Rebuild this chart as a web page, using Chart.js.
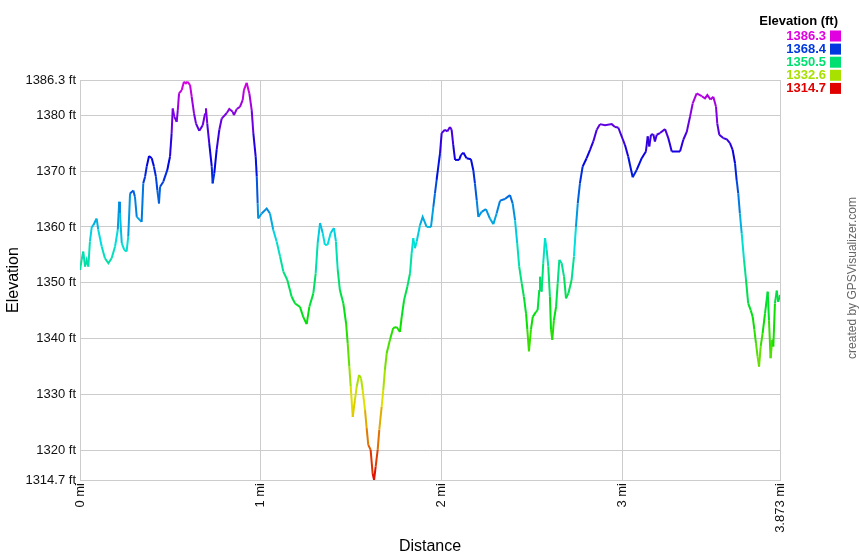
<!DOCTYPE html>
<html>
<head>
<meta charset="utf-8">
<script src="https://cdn.jsdelivr.net/npm/chart.js@4"></script>
<style>
  body { margin: 0; background: #fff; }
  #wrap { width: 860px; height: 560px; }
</style>
</head>
<body>
<div id="wrap"><canvas id="elevChart" width="860" height="560"></canvas></div>
<script>
// distance along the track (mi)
const distances = [
  0, 0.009, 0.018, 0.028, 0.037, 0.046, 0.055, 0.065, 0.074, 0.092, 0.101, 0.120, 0.138, 0.157, 0.175, 0.194, 0.209, 0.217, 0.221, 0.231,
  0.245, 0.258, 0.267, 0.277, 0.295, 0.304, 0.314, 0.341, 0.350, 0.360, 0.369, 0.382, 0.397, 0.409, 0.420, 0.428, 0.437, 0.443, 0.461, 0.483,
  0.498, 0.507, 0.513, 0.522, 0.535, 0.541, 0.548, 0.563, 0.575, 0.586, 0.594, 0.609, 0.618, 0.631, 0.642, 0.660, 0.679, 0.692, 0.697, 0.704,
  0.715, 0.729, 0.734, 0.743, 0.756, 0.771, 0.784, 0.812, 0.826, 0.845, 0.852, 0.867, 0.885, 0.900, 0.907, 0.922, 0.937, 0.950, 0.959, 0.972,
  0.978, 0.983, 0.986, 1.005, 1.033, 1.051, 1.069, 1.088, 1.107, 1.125, 1.147, 1.171, 1.190, 1.217, 1.235, 1.254, 1.269, 1.291, 1.304, 1.315,
  1.328, 1.343, 1.355, 1.370, 1.387, 1.405, 1.416, 1.426, 1.438, 1.457, 1.472, 1.481, 1.490, 1.498, 1.509, 1.521, 1.531, 1.544, 1.555, 1.564,
  1.577, 1.586, 1.595, 1.608, 1.619, 1.627, 1.636, 1.647, 1.656, 1.669, 1.678, 1.687, 1.697, 1.715, 1.733, 1.752, 1.770, 1.780, 1.793, 1.811,
  1.826, 1.835, 1.844, 1.853, 1.863, 1.881, 1.896, 1.918, 1.942, 1.955, 1.964, 1.973, 1.992, 2.001, 2.019, 2.032, 2.047, 2.056, 2.065, 2.075,
  2.098, 2.108, 2.121, 2.139, 2.163, 2.176, 2.185, 2.195, 2.204, 2.222, 2.246, 2.268, 2.287, 2.305, 2.324, 2.351, 2.379, 2.394, 2.407, 2.419,
  2.430, 2.444, 2.456, 2.468, 2.475, 2.484, 2.495, 2.505, 2.523, 2.532, 2.541, 2.545, 2.554, 2.563, 2.573, 2.582, 2.591, 2.600, 2.606, 2.613,
  2.622, 2.634, 2.643, 2.652, 2.665, 2.678, 2.689, 2.702, 2.720, 2.733, 2.744, 2.754, 2.766, 2.781, 2.803, 2.822, 2.840, 2.859, 2.877, 2.905,
  2.942, 2.960, 2.978, 3.015, 3.033, 3.058, 3.080, 3.108, 3.131, 3.141, 3.150, 3.159, 3.172, 3.181, 3.191, 3.209, 3.237, 3.255, 3.274, 3.292,
  3.320, 3.338, 3.357, 3.375, 3.390, 3.412, 3.440, 3.458, 3.471, 3.489, 3.504, 3.519, 3.526, 3.537, 3.559, 3.578, 3.596, 3.611, 3.624, 3.633,
  3.642, 3.651, 3.661, 3.674, 3.685, 3.697, 3.711, 3.722, 3.731, 3.740, 3.749, 3.757, 3.766, 3.777, 3.790, 3.799, 3.805, 3.812, 3.821, 3.830,
  3.836, 3.845, 3.855, 3.863, 3.873
];

// elevation (ft)
const elevations = [
  1352.3, 1354.1, 1355.6, 1352.9, 1354.1, 1352.9, 1357.4, 1360.0, 1360.3, 1361.5, 1359.5, 1356.5, 1354.4, 1353.5, 1354.4, 1356.5, 1359.5, 1364.5, 1362.5, 1357.1,
  1355.9, 1355.6, 1358.3, 1366.0, 1366.5, 1365.4, 1361.8, 1360.9, 1367.8, 1369.0, 1370.8, 1372.7, 1372.3, 1370.8, 1369.0, 1366.6, 1364.2, 1367.2, 1368.1, 1370.2,
  1372.6, 1376.8, 1381.2, 1379.7, 1378.8, 1380.9, 1383.9, 1384.5, 1386.0, 1385.7, 1386.0, 1385.4, 1383.3, 1380.3, 1378.5, 1377.2, 1378.2, 1380.3, 1381.2, 1378.5,
  1375.0, 1370.8, 1367.8, 1369.6, 1373.8, 1377.4, 1379.4, 1380.4, 1381.1, 1380.6, 1380.0, 1381.1, 1381.5, 1382.7, 1384.5, 1385.8, 1383.9, 1380.9, 1376.8, 1372.6,
  1369.0, 1364.2, 1361.5, 1362.4, 1363.3, 1362.4, 1359.5, 1357.4, 1354.7, 1352.0, 1350.5, 1347.5, 1346.3, 1345.7, 1343.9, 1342.6, 1345.7, 1348.1, 1351.7, 1357.1,
  1360.7, 1358.9, 1356.8, 1356.8, 1358.9, 1359.8, 1357.4, 1352.3, 1348.7, 1346.3, 1342.8, 1339.2, 1335.0, 1331.4, 1326.0, 1329.0, 1331.4, 1333.5, 1332.9, 1330.8,
  1327.2, 1324.0, 1321.0, 1320.1, 1315.9, 1314.7, 1317.1, 1320.1, 1323.7, 1327.8, 1330.8, 1334.4, 1337.4, 1339.8, 1341.9, 1342.1, 1341.2, 1343.9, 1346.9, 1349.3,
  1351.7, 1355.3, 1358.0, 1356.2, 1357.4, 1360.3, 1361.8, 1360.0, 1360.0, 1363.6, 1366.0, 1368.4, 1373.2, 1376.8, 1377.4, 1377.1, 1377.9, 1377.4, 1374.7, 1372.0,
  1372.0, 1372.9, 1373.3, 1372.3, 1372.1, 1370.2, 1367.8, 1364.8, 1361.8, 1362.7, 1363.2, 1361.5, 1360.5, 1362.4, 1364.7, 1365.0, 1365.7, 1364.2, 1361.2, 1357.1,
  1352.9, 1349.9, 1347.5, 1344.5, 1341.6, 1337.7, 1341.6, 1343.9, 1344.8, 1345.1, 1348.7, 1351.1, 1348.4, 1353.5, 1358.0, 1355.9, 1352.9, 1347.5, 1341.6, 1339.8,
  1343.3, 1345.7, 1349.9, 1354.1, 1353.5, 1351.1, 1347.2, 1348.1, 1350.5, 1354.7, 1360.0, 1364.2, 1367.8, 1370.8, 1372.3, 1373.8, 1375.3, 1377.4, 1378.4, 1378.2,
  1378.4, 1377.9, 1377.8, 1374.7, 1372.6, 1368.9, 1370.2, 1372.3, 1373.5, 1376.2, 1374.4, 1376.5, 1376.6, 1375.3, 1376.5, 1376.8, 1377.5, 1375.9, 1373.5, 1373.5,
  1373.5, 1375.6, 1377.0, 1379.7, 1382.1, 1383.9, 1383.4, 1383.0, 1383.6, 1382.8, 1383.3, 1381.5, 1378.5, 1376.5, 1375.9, 1375.7, 1375.0, 1373.8, 1371.4, 1368.4,
  1366.0, 1362.4, 1358.9, 1354.1, 1350.5, 1346.3, 1345.1, 1343.9, 1341.6, 1339.2, 1336.8, 1335.0, 1338.6, 1341.0, 1344.5, 1346.9, 1348.4, 1343.3, 1336.5, 1339.8,
  1338.6, 1346.3, 1348.6, 1346.6, 1347.8
];

// tick labels
const yTicks = [1314.7, 1320, 1330, 1340, 1350, 1360, 1370, 1380, 1386.3];
const xTicks = [0, 1, 2, 3, 3.873];
const legendValues = [1386.3, 1368.4, 1350.5, 1332.6, 1314.7];

const minEl = 1314.7;
const maxEl = 1386.3;

// red (low) -> yellow -> green -> blue -> magenta (high)
function colorFor(ft) {
    let t = (ft - minEl) / (maxEl - minEl);
    t = Math.max(0, Math.min(1, t));
    return `hsl(${Math.round(t * 300)}, 100%, 44%)`;
}

const points = distances.map((d, i) => ({ x: d, y: elevations[i] }));

// legend + credit, drawn as text
const sidePlugin = {
    id: 'sideText',
    afterDraw(chart) {
        const c = chart.ctx;
        c.save();
        c.textAlign = 'right';
        c.textBaseline = 'middle';
        c.font = 'bold 13px "Liberation Sans", Arial, sans-serif';
        c.fillStyle = '#000';
        c.fillText('Elevation (ft)', 838, 21);
        legendValues.forEach((v, i) => {
            const y = 36 + i * 13.1;
            c.fillStyle = colorFor(v);
            c.fillText(v.toFixed(1), 826, y + 0.5);
            c.fillRect(830, y - 5.5, 11, 11);
        });
        c.translate(853, 278);
        c.rotate(-Math.PI / 2);
        c.textAlign = 'center';
        c.font = '12px "Liberation Sans", Arial, sans-serif';
        c.fillStyle = '#666';
        c.fillText('created by GPSVisualizer.com', 0, 0);
        c.restore();
    }
};

Chart.defaults.font.family = '"Liberation Sans", Arial, sans-serif';
Chart.defaults.color = '#111';

const ctx = document.getElementById('elevChart').getContext('2d');
new Chart(ctx, {
    type: 'line',
    data: {
        datasets: [{
            data: points,
            borderWidth: 2,
            pointRadius: 0,
            tension: 0,
            fill: false,
            segment: {
                borderColor: s => colorFor((s.p0.parsed.y + s.p1.parsed.y) / 2)
            }
        }]
    },
    options: {
        responsive: false,
        animation: false,
        layout: { padding: { top: 80, right: 80, left: 0, bottom: 0 } },
        plugins: {
            legend: { display: false },
            tooltip: { enabled: false }
        },
        scales: {
            x: {
                type: 'linear',
                min: 0,
                max: 3.873,
                afterBuildTicks: scale => { scale.ticks = xTicks.map(v => ({ value: v })); },
                afterFit: scale => { scale.height = 80; },
                grid: { color: '#cccccc', drawTicks: false },
                border: { color: '#cccccc' },
                ticks: {
                    padding: 3,
                    minRotation: 90,
                    maxRotation: 90,
                    autoSkip: false,
                    font: { size: 13 },
                    callback: v => v + ' mi'
                },
                title: {
                    display: true,
                    text: 'Distance',
                    font: { size: 16 },
                    color: '#000'
                }
            },
            y: {
                min: minEl,
                max: maxEl,
                afterBuildTicks: scale => { scale.ticks = yTicks.map(v => ({ value: v })); },
                afterFit: scale => { scale.width = 80; },
                grid: { color: '#cccccc', drawTicks: false },
                border: { color: '#cccccc' },
                ticks: {
                    padding: 4,
                    autoSkip: false,
                    font: { size: 13 },
                    callback: v => v + ' ft'
                },
                title: {
                    display: true,
                    text: 'Elevation',
                    font: { size: 16 },
                    color: '#000'
                }
            }
        }
    },
    plugins: [sidePlugin]
});
</script>
</body>
</html>
